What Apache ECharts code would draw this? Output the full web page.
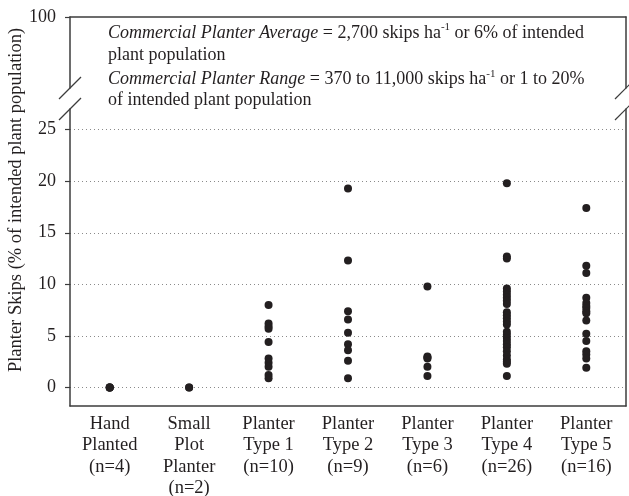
<!DOCTYPE html>
<html>
<head>
<meta charset="utf-8">
<script src="https://cdn.jsdelivr.net/npm/echarts@6/dist/echarts.min.js"></script>
<style>
  html, body { margin: 0; padding: 0; background: #fff; }
  #main { width: 629px; height: 496px; }
</style>
</head>
<body>
<div id="main"></div>
<script>
// categories and skip values (% of intended plant population)
var categories = ['Hand\nPlanted\n(n=4)', 'Small\nPlot\nPlanter\n(n=2)', 'Planter\nType 1\n(n=10)',
    'Planter\nType 2\n(n=9)', 'Planter\nType 3\n(n=6)', 'Planter\nType 4\n(n=26)', 'Planter\nType 5\n(n=16)'];
var handPlanted = [0, 0, 0, 0];
var smallPlot = [0, 0];
var type1 = [8.0, 6.2, 5.9, 5.7, 4.4, 2.8, 2.4, 2.0, 1.2, 0.9];
var type2 = [19.3, 12.3, 7.4, 6.6, 5.3, 4.2, 3.6, 2.6, 0.9];
var type3 = [9.8, 3.0, 2.9, 2.8, 2.0, 1.1];
var type4 = [19.8, 12.7, 12.5, 9.6, 9.3, 9.0, 8.7, 8.4, 8.1, 7.3, 7.0, 6.7, 6.4,
    6.1, 5.4, 5.1, 4.8, 4.5, 4.2, 3.9, 3.5, 3.1, 2.7, 2.5, 2.3, 1.1];
var type5 = [17.4, 11.8, 11.1, 8.7, 8.2, 7.9, 7.7, 7.4, 7.2, 6.5, 5.2, 4.5, 3.5, 3.2, 2.8, 1.9];
var lowerTicks = [0, 5, 10, 15, 20, 25];
var upperTicks = [100];

var groups = [handPlanted, smallPlot, type1, type2, type3, type4, type5];
var points = [];
groups.forEach(function (vals, i) {
    vals.forEach(function (v) {
        points.push([i, v]);
    });
});

var ink = '#231f20';
var axisCol = '#3c3c3c';
var font = 'Liberation Serif';

var myChart = echarts.init(document.getElementById('main'));

// little break marks on the y axes
function slash(x, y) {
    return {
        type: 'line',
        shape: { x1: x - 11, y1: y + 11, x2: x + 11, y2: y - 11 },
        style: { stroke: axisCol, lineWidth: 1.2 }
    };
}

option = {
    backgroundColor: '#fff',
    textStyle: { fontFamily: font, color: ink },
    grid: [
        { left: 70, right: 3, top: 17, height: 71, outerBoundsMode: 'none' },
        { left: 70, right: 3, top: 109, bottom: 90, outerBoundsMode: 'none' }
    ],
    xAxis: [{
        gridIndex: 0,
        type: 'value',
        min: 0,
        max: 1,
        position: 'top',
        axisLine: { show: true, onZero: false, lineStyle: { color: axisCol, width: 1.5 } },
        axisTick: { show: false },
        axisLabel: { show: false },
        splitLine: { show: false }
    }, {
        gridIndex: 1,
        type: 'category',
        data: categories,
        axisLine: { onZero: false, lineStyle: { color: axisCol, width: 1.5 } },
        axisTick: { alignWithLabel: true, length: 6, lineStyle: { color: axisCol, width: 1.2 } },
        axisLabel: {
            color: ink,
            fontFamily: font,
            fontSize: 18.5,
            lineHeight: 21.5,
            margin: 7,
            interval: 0
        },
        splitLine: { show: false }
    }],
    yAxis: [{
        gridIndex: 0,
        type: 'value',
        min: 90,
        max: 100,
        axisLine: { show: true, onZero: false, lineStyle: { color: axisCol, width: 1.5 } },
        axisTick: { show: true, length: 5, customValues: upperTicks, lineStyle: { color: axisCol, width: 1.2 } },
        axisLabel: { customValues: upperTicks, color: ink, fontFamily: font, fontSize: 18, margin: 14 },
        splitLine: { show: false }
    }, {
        gridIndex: 0,
        type: 'value',
        position: 'right',
        min: 90,
        max: 100,
        axisLine: { show: true, onZero: false, lineStyle: { color: axisCol, width: 1.5 } },
        axisTick: { show: false },
        axisLabel: { show: false },
        splitLine: { show: false }
    }, {
        gridIndex: 1,
        type: 'value',
        min: -1.8,
        max: 27,
        axisLine: { show: true, onZero: false, lineStyle: { color: axisCol, width: 1.5 } },
        axisTick: { show: true, length: 5, customValues: lowerTicks, lineStyle: { color: axisCol, width: 1.2 } },
        axisLabel: { customValues: lowerTicks, color: ink, fontFamily: font, fontSize: 18, margin: 14 },
        splitLine: { show: true, lineStyle: { color: '#8a8a8a', type: [1, 3], width: 1 } }
    }, {
        gridIndex: 1,
        type: 'value',
        position: 'right',
        min: -1.8,
        max: 27,
        axisLine: { show: true, onZero: false, lineStyle: { color: axisCol, width: 1.5 } },
        axisTick: { show: false },
        axisLabel: { show: false },
        splitLine: { show: false }
    }],
    graphic: [
        slash(70, 88), slash(70, 109), slash(626, 88), slash(626, 109),
        {
            type: 'text',
            x: 16,
            y: 200,
            rotation: Math.PI / 2,
            style: {
                text: 'Planter Skips (% of intended plant population)',
                font: '18.5px "Liberation Serif"',
                fill: ink,
                align: 'center',
                verticalAlign: 'middle'
            }
        },
        {
            type: 'text',
            left: 108,
            top: 22,
            style: {
                text: '{i|Commercial Planter Average} = 2,700 skips ha{s|-1} or 6% of intended\nplant population',
                font: '18px "Liberation Serif"',
                fill: ink,
                lineHeight: 22,
                rich: {
                    i: { fontStyle: 'italic', fontSize: 18, fontFamily: font, lineHeight: 22 },
                    s: { fontSize: 11, fontFamily: font, lineHeight: 16, verticalAlign: 'top' }
                }
            }
        },
        {
            type: 'text',
            left: 108,
            top: 69,
            style: {
                text: '{i|Commercial Planter Range} = 370 to 11,000 skips ha{s|-1} or 1 to 20%\nof intended plant population',
                font: '18px "Liberation Serif"',
                fill: ink,
                lineHeight: 21,
                rich: {
                    i: { fontStyle: 'italic', fontSize: 18, fontFamily: font, lineHeight: 21 },
                    s: { fontSize: 11, fontFamily: font, lineHeight: 16, verticalAlign: 'top' }
                }
            }
        }
    ],
    series: [{
        type: 'scatter',
        xAxisIndex: 1,
        yAxisIndex: 2,
        symbolSize: 8,
        itemStyle: { color: ink, opacity: 1 },
        data: points
    }]
};

myChart.setOption(option);
</script>
</body>
</html>
